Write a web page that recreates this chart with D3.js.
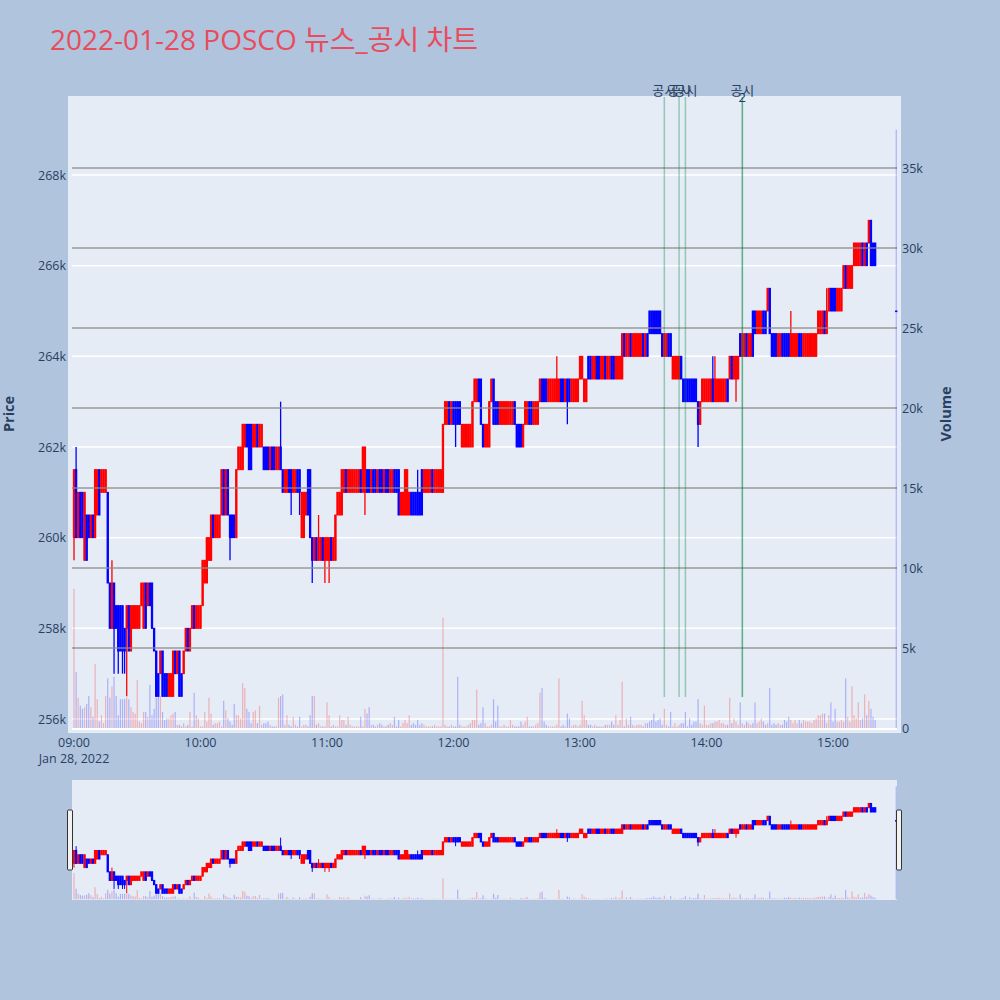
<!DOCTYPE html>
<html>
<head>
<meta charset="utf-8">
<script src="https://cdn.jsdelivr.net/npm/d3@7"></script>
<style>
  body { margin: 0; background: #b0c4de; }
  text { font-family: "Open Sans", "Noto Sans CJK KR", sans-serif; }
</style>
</head>
<body>
<div id="chart"></div>
<script>
// one candle per minute from 09:00, prices in thousand won.
// each body spans from the previous level to this minute's level
const firstLevel = 260.0;
const levels = [
  261.5, 260.0, 261.0, 260.0, 261.0, 259.5, 260.5, 260.0, 260.5, 260.0,
  261.5, 260.5, 261.5, 261.0, 261.5, 261.0, 259.0, 258.0, 259.0, 258.0,
  258.5, 257.5, 258.5, 257.5, 258.0, 258.5, 257.5, 258.5, 258.0, 258.5,
  258.0, 258.5, 259.0, 258.0, 259.0, 258.5, 259.0, 258.0, 257.5, 256.5,
  257.0, 257.5, 256.5, 257.0, 256.5, 257.0, 256.5, 257.5, 257.0, 257.5,
  256.5, 257.0, 257.5, 258.0, 257.5, 258.0, 258.5, 258.0, 258.5, 258.0,
  258.5, 259.5, 259.0, 260.0, 259.5, 260.5, 260.0, 260.5, 260.0, 260.5,
  261.5, 260.5, 261.5, 260.5, 260.0, 260.5, 260.0, 261.5, 262.0, 261.5,
  262.5, 262.0, 262.5, 261.5, 262.5, 262.0, 262.5, 262.0, 262.5, 262.0,
  261.5, 262.0, 261.5, 262.0, 261.5, 262.0, 261.5, 262.0, 261.5, 261.0,
  261.5, 261.0, 261.5, 261.0, 261.5, 261.0, 261.5, 261.0, 260.0, 261.0,
  260.5, 261.5, 260.0, 259.5, 260.0, 259.5, 260.0, 259.5, 260.0, 259.5,
  260.0, 259.5, 260.0, 259.5, 260.5, 261.0, 260.5, 261.5, 261.0, 261.5,
  261.0, 261.5, 261.0, 261.5, 261.0, 261.5, 261.0, 262.0, 261.0, 261.5,
  261.0, 261.5, 261.0, 261.5, 261.0, 261.5, 261.0, 261.5, 261.0, 261.5,
  261.0, 261.5, 261.0, 261.5, 260.5, 261.0, 260.5, 261.5, 260.5, 261.0,
  260.5, 261.0, 260.5, 261.0, 260.5, 261.5, 261.0, 261.5, 261.0, 261.5,
  261.0, 261.5, 261.0, 261.5, 261.0, 262.5, 263.0, 262.5, 263.0, 262.5,
  263.0, 262.5, 263.0, 262.5, 262.0, 262.5, 262.0, 262.5, 262.0, 263.0,
  263.5, 263.0, 263.5, 262.5, 262.0, 262.5, 262.0, 263.0, 263.5, 262.5,
  263.0, 262.5, 263.0, 262.5, 263.0, 262.5, 263.0, 262.5, 263.0, 262.5,
  262.0, 262.5, 262.0, 262.5, 263.0, 262.5, 263.0, 262.5, 263.0, 262.5,
  263.0, 263.5, 263.0, 263.5, 263.0, 263.5, 263.0, 263.5, 263.0, 263.5,
  263.0, 263.5, 263.0, 263.5, 263.0, 263.5, 263.0, 263.5, 263.0, 263.5,
  264.0, 263.5, 263.0, 263.5, 264.0, 263.5, 264.0, 263.5, 264.0, 263.5,
  264.0, 263.5, 264.0, 263.5, 264.0, 263.5, 264.0, 263.5, 264.0, 263.5,
  264.5, 264.0, 264.5, 264.0, 264.5, 264.0, 264.5, 264.0, 264.5, 264.0,
  264.5, 264.0, 264.5, 265.0, 264.5, 265.0, 264.5, 265.0, 264.5, 264.0,
  264.5, 264.0, 264.5, 264.0, 263.5, 264.0, 263.5, 264.0, 263.5, 263.0,
  263.5, 263.0, 263.5, 263.0, 263.5, 263.0, 262.5, 263.0, 263.5, 263.0,
  263.5, 263.0, 263.5, 263.0, 263.5, 263.0, 263.5, 263.0, 263.5, 263.0,
  263.5, 264.0, 263.5, 264.0, 263.5, 264.0, 264.5, 264.0, 264.5, 264.0,
  264.5, 264.0, 265.0, 264.5, 265.0, 264.5, 265.0, 264.5, 265.0, 265.5,
  264.5, 264.0, 264.5, 264.0, 264.5, 264.0, 264.5, 264.0, 264.5, 264.0,
  264.5, 264.0, 264.5, 264.0, 264.5, 264.0, 264.5, 264.0, 264.5, 264.0,
  264.5, 264.0, 264.5, 265.0, 264.5, 265.0, 264.5, 265.0, 265.5, 265.0,
  265.5, 265.0, 265.5, 265.0, 265.5, 266.0, 265.5, 266.0, 265.5, 266.0,
  266.5, 266.0, 266.5, 266.0, 266.5, 266.0, 266.5, 267.0, 266.0, 266.5,
  266.0
];
// r = rising candle (red), b = falling candle (blue), one letter per minute
const bodyDirs = [
  "rbrbbrbbrb", "rrbrrrbbrb", "bbbbbrbrrr", "rrrrbrbbbb", "brbbbrrrbr",
  "bbrrbrrbrr", "rrrrrrbrrr", "rbrbbbbrrr", "rrbbbrrbrr", "bbbrbbrrbb",
  "rrbbrrbbrr", "rbbbrbrrbr", "rrbrrrrrrb", "rrrrrrbrrb", "brbbrbbrbb",
  "rrbbbrrrrr", "bbbbbbrrrr", "brrrrrrrbr", "bbbbrrrrrr", "rrbbbrrrrb",
  "bbrrrrrrrb", "bbbrrrbbrr", "rrbbbrrrrr", "rbbrbbrrrr", "rrrrbbrrbb",
  "rrbrrbbrrr", "rbrrbrrrrr", "brbbbbbbbb", "rrbbrrrrbb", "bbbbbbbrrr",
  "rrrbrrrrrr", "brbrrrbrrb", "rrbbrrrbbr", "bbbbrrbbbb", "rrrrbbrrrr",
  "rrrrrrbrrb", "bbrrrrbrrr", "rrrrbrbrbb", "b"
].join("");
// [minute index, wick end]
const highWicks = [[1, 262.0], [18, 259.5], [98, 263.0], [116, 260.5], [163, 261.5],
  [229, 264.0], [303, 264.0], [304, 264.0], [340, 265.0], [357, 265.5]];
const lowWicks = [[0, 259.5], [19, 257.0], [21, 257.0], [23, 257.0], [24, 257.0], [25, 256.5],
  [74, 259.5], [103, 260.5], [107, 260.5], [113, 259.0], [119, 259.0], [121, 259.0],
  [138, 260.5], [181, 262.0], [234, 262.5], [296, 262.0], [314, 263.0]];
// volume per minute, thousand shares
const volumes = [
  8.7, 3.5, 1.9, 1.4, 1.2, 1.3, 1.5, 2.0, 1.3, 0.7,
  4.0, 1.8, 0.4, 0.8, 0.3, 2.0, 3.1, 1.9, 2.6, 3.2,
  2.0, 0.8, 1.8, 1.8, 1.8, 1.9, 1.8, 1.3, 1.0, 0.9,
  3.0, 0.4, 0.3, 1.0, 1.0, 0.7, 2.7, 0.8, 1.2, 1.9,
  3.0, 2.0, 1.0, 0.5, 0.6, 0.6, 0.8, 0.9, 1.0, 0.2,
  0.2, 0.1, 0.3, 0.1, 0.2, 1.0, 0.1, 2.2, 0.8, 0.6,
  0.1, 0.1, 1.0, 0.4, 1.9, 0.9, 0.2, 0.3, 0.3, 0.4,
  0.1, 1.7, 1.1, 0.6, 0.4, 0.2, 1.5, 0.8, 0.8, 0.6,
  2.8, 2.5, 1.2, 1.0, 0.3, 1.0, 1.1, 0.3, 1.4, 0.2,
  0.3, 0.3, 0.4, 0.2, 0.1, 0.1, 0.1, 1.9, 2.0, 2.1,
  0.2, 0.8, 0.2, 0.1, 0.7, 0.2, 0.1, 0.7, 0.1, 0.2,
  0.2, 0.1, 0.8, 2.0, 2.0, 0.2, 0.3, 0.1, 0.1, 0.1,
  1.6, 0.8, 0.1, 0.2, 0.1, 0.1, 0.8, 0.5, 0.5, 0.2,
  0.7, 0.2, 0.1, 0.1, 0.1, 0.1, 0.7, 0.1, 1.2, 0.9,
  1.3, 0.2, 0.2, 0.1, 0.2, 0.3, 0.2, 0.1, 0.1, 0.2,
  0.3, 0.2, 0.7, 0.1, 0.5, 0.1, 0.3, 0.5, 0.3, 0.8,
  0.2, 0.3, 0.2, 0.5, 0.2, 0.3, 0.2, 0.1, 0.1, 0.1,
  0.1, 0.2, 0.1, 0.1, 0.1, 6.9, 0.2, 0.1, 0.1, 0.2,
  0.1, 0.1, 3.2, 0.2, 0.1, 0.1, 0.1, 0.2, 0.3, 0.5,
  0.5, 2.4, 0.2, 0.3, 1.3, 0.3, 0.1, 0.1, 0.2, 1.8,
  0.4, 1.4, 0.1, 0.1, 0.2, 0.1, 0.1, 0.5, 0.2, 0.1,
  0.1, 0.1, 0.4, 0.2, 0.4, 0.7, 0.1, 0.1, 0.1, 0.2,
  0.3, 2.2, 2.5, 0.4, 0.2, 0.1, 0.1, 0.1, 0.1, 0.2,
  3.1, 0.1, 0.2, 0.1, 0.9, 0.6, 0.1, 0.2, 0.2, 0.1,
  0.2, 1.7, 0.8, 0.5, 0.2, 0.2, 0.1, 0.2, 0.1, 0.1,
  0.1, 0.1, 0.2, 0.2, 0.2, 0.4, 0.2, 0.8, 0.2, 0.5,
  2.9, 0.1, 0.6, 0.2, 0.7, 0.2, 0.1, 0.2, 0.2, 0.2,
  0.1, 0.3, 0.3, 0.4, 0.5, 0.9, 0.4, 0.5, 0.6, 0.2,
  1.2, 0.2, 0.1, 1.0, 0.1, 0.3, 0.1, 0.2, 0.3, 0.3,
  1.0, 0.1, 0.6, 0.2, 0.4, 0.4, 1.8, 0.3, 0.2, 1.4,
  0.2, 0.2, 0.3, 0.3, 0.4, 0.4, 0.5, 0.3, 0.3, 0.2,
  0.2, 1.9, 0.3, 0.6, 0.4, 0.2, 1.6, 0.3, 0.2, 0.4,
  0.3, 0.2, 0.3, 1.6, 0.3, 0.4, 0.6, 0.4, 0.2, 0.3,
  2.5, 0.2, 0.3, 0.2, 0.3, 0.2, 0.2, 0.5, 0.4, 0.7,
  0.5, 0.3, 0.5, 0.3, 0.5, 0.3, 0.5, 0.4, 0.4, 0.4,
  0.3, 0.5, 0.6, 0.8, 0.8, 0.9, 0.9, 0.3, 0.8, 1.6,
  0.4, 1.2, 0.4, 0.4, 0.5, 0.4, 3.1, 0.7, 0.4, 2.6,
  0.8, 0.6, 1.6, 0.5, 0.6, 2.1, 0.8, 1.7, 1.2, 0.7,
  0.5
];
// closing single-price auction
const closingTime = "15:30";
const closingPrice = 265.0;
const closingVolume = 37.4;

const eventTimes = ["13:40", "13:47", "13:50", "14:17"];
const eventCounts = [1, 1, 1, 2];
const eventLabel = "공시";

const priceTicks = [256, 258, 260, 262, 264, 266, 268];
const volumeTicks = [0, 5, 10, 15, 20, 25, 30, 35];
const timeTicks = ["09:00", "10:00", "11:00", "12:00", "13:00", "14:00", "15:00"];

const W = 1000, H = 1000;
const UP = "#ff0000", DOWN = "#0000ff";
const FONT_COLOR = "#2a3f5f";

const parseTime = d3.timeParse("%Y-%m-%d %H:%M");
const day = "2022-01-28";
const start = parseTime(day + " 09:00");

const candles = levels.map((lv, i) => {
  const prev = i === 0 ? firstLevel : levels[i - 1];
  const lo = Math.min(prev, lv), hi = Math.max(prev, lv);
  const up = bodyDirs[i] === "r";
  return { t: d3.timeMinute.offset(start, i), o: up ? lo : hi, c: up ? hi : lo,
    h: hi, l: lo, v: volumes[i], up };
});
highWicks.forEach(([i, h]) => { candles[i].h = Math.max(candles[i].h, h); });
lowWicks.forEach(([i, l]) => { candles[i].l = Math.min(candles[i].l, l); });
candles.push({ t: parseTime(day + " " + closingTime), o: closingPrice, c: closingPrice,
  h: closingPrice, l: closingPrice, v: closingVolume, up: false });

const color = d => d.up ? UP : DOWN;

const x = d3.scaleTime()
  .domain([parseTime(day + " 09:00"), parseTime(day + " 15:00")])
  .range([74, 833]);
const y = d3.scaleLinear().domain([256, 268]).range([719, 175]);
const yv = d3.scaleLinear().domain([0, 35]).range([728, 168]);
const yMini = d3.scaleLinear().domain([255.71, 269.74]).range([900, 780]);
const yvMini = d3.scaleLinear().domain([-0.25, 39.5]).range([900, 780]);

const svg = d3.select("#chart").append("svg")
  .attr("width", W)
  .attr("height", H);

svg.append("rect").attr("width", W).attr("height", H).attr("fill", "#b0c4de");

// title
svg.append("text")
  .attr("x", 50).attr("y", 50)
  .attr("font-size", 28)
  .attr("fill", "#e84c5d")
  .text("2022-01-28 POSCO 뉴스_공시 차트");

// main plot background
svg.append("rect")
  .attr("x", 68).attr("y", 96)
  .attr("width", 833).attr("height", 637)
  .attr("fill", "#e5ecf6");

const gridX0 = 72, gridX1 = 897;

// price gridlines
svg.append("g").selectAll("line")
  .data(priceTicks)
  .enter().append("line")
  .attr("x1", gridX0).attr("x2", gridX1)
  .attr("y1", d => y(d)).attr("y2", d => y(d))
  .attr("stroke", "#ffffff").attr("stroke-width", 1.5);

svg.append("line")
  .attr("x1", gridX0).attr("x2", gridX1)
  .attr("y1", yv(0) + 1).attr("y2", yv(0) + 1)
  .attr("stroke", "#ffffff").attr("stroke-width", 2);

function drawCandles(g, data, ys, bodyW, wickW) {
  g.selectAll(".wick")
    .data(data)
    .enter().append("line")
    .attr("class", "wick")
    .attr("x1", d => x(d.t)).attr("x2", d => x(d.t))
    .attr("y1", d => ys(d.h)).attr("y2", d => ys(d.l))
    .attr("stroke", color)
    .attr("stroke-width", wickW);
  g.selectAll(".body")
    .data(data)
    .enter().append("rect")
    .attr("class", "body")
    .attr("x", d => x(d.t) - bodyW / 2)
    .attr("y", d => ys(Math.max(d.o, d.c)))
    .attr("width", bodyW)
    .attr("height", d => Math.max(0.6, Math.abs(ys(d.o) - ys(d.c))))
    .attr("fill", color)
    .attr("stroke", color)
    .attr("stroke-width", 1);
}

drawCandles(svg.append("g"), candles, y, 1.3, 1.3);

// volume gridlines (secondary axis, drawn above the candles)
svg.append("g").selectAll("line")
  .data(volumeTicks.filter(d => d > 0))
  .enter().append("line")
  .attr("x1", gridX0).attr("x2", gridX1)
  .attr("y1", d => yv(d)).attr("y2", d => yv(d))
  .attr("stroke", "#8c8c8c").attr("stroke-width", 1.3)
  .attr("opacity", 0.85);

// volume bars
svg.append("g").selectAll("rect")
  .data(candles)
  .enter().append("rect")
  .attr("x", d => x(d.t) - 0.6)
  .attr("y", d => yv(d.v))
  .attr("width", 1.2)
  .attr("height", d => yv(0) - yv(d.v))
  .attr("fill", color)
  .attr("opacity", 0.25);

// disclosure lines
const events = eventTimes.map((t, i) => ({ t: parseTime(day + " " + t), n: eventCounts[i] }));
const ev = svg.append("g");
events.forEach(e => {
  d3.range(e.n).forEach(() => {
    ev.append("line")
      .attr("x1", x(e.t)).attr("x2", x(e.t))
      .attr("y1", 97).attr("y2", 697)
      .attr("stroke", "rgba(0,128,60,0.35)")
      .attr("stroke-width", 1.5);
  });
  ev.append("text")
    .attr("x", x(e.t)).attr("y", 95)
    .attr("text-anchor", "middle")
    .attr("font-size", 13)
    .attr("fill", FONT_COLOR)
    .text(eventLabel);
  if (e.n > 1) {
    ev.append("text")
      .attr("x", x(e.t)).attr("y", 102)
      .attr("text-anchor", "middle")
      .attr("font-size", 13)
      .attr("fill", FONT_COLOR)
      .text(e.n);
  }
});

// axes labels
svg.append("g").selectAll("text")
  .data(priceTicks)
  .enter().append("text")
  .attr("x", 66).attr("y", d => y(d) + 4.5)
  .attr("text-anchor", "end")
  .attr("font-size", 12.5)
  .attr("fill", FONT_COLOR)
  .text(d => d + "k");

svg.append("g").selectAll("text")
  .data(volumeTicks)
  .enter().append("text")
  .attr("x", 902).attr("y", d => yv(d) + 4.5)
  .attr("font-size", 12.5)
  .attr("fill", FONT_COLOR)
  .text(d => d === 0 ? "0" : d + "k");

svg.append("g").selectAll("text")
  .data(timeTicks)
  .enter().append("text")
  .attr("x", d => x(parseTime(day + " " + d)))
  .attr("y", 747)
  .attr("text-anchor", "middle")
  .attr("font-size", 12.5)
  .attr("fill", FONT_COLOR)
  .text(d => d);

svg.append("text")
  .attr("x", x(start)).attr("y", 763)
  .attr("text-anchor", "middle")
  .attr("font-size", 12.5)
  .attr("fill", FONT_COLOR)
  .text("Jan 28, 2022");

svg.append("text")
  .attr("transform", "translate(14,414) rotate(-90)")
  .attr("text-anchor", "middle")
  .attr("font-size", 14.5)
  .attr("font-weight", "bold")
  .attr("fill", FONT_COLOR)
  .text("Price");

svg.append("text")
  .attr("transform", "translate(951,414) rotate(-90)")
  .attr("text-anchor", "middle")
  .attr("font-size", 14.5)
  .attr("font-weight", "bold")
  .attr("fill", FONT_COLOR)
  .text("Volume");

// range slider
const slider = svg.append("g");
slider.append("rect")
  .attr("x", gridX0).attr("y", 780)
  .attr("width", gridX1 - gridX0).attr("height", 120)
  .attr("fill", "#e5ecf6");
drawCandles(slider.append("g"), candles, yMini, 1.3, 1);
slider.append("g").selectAll("rect")
  .data(candles)
  .enter().append("rect")
  .attr("x", d => x(d.t) - 0.6)
  .attr("y", d => yvMini(d.v))
  .attr("width", 1.2)
  .attr("height", d => yvMini(0) - yvMini(d.v))
  .attr("fill", color)
  .attr("opacity", 0.25);
[gridX0 - 2, gridX1 + 2].forEach(hx => {
  slider.append("rect")
    .attr("x", hx - 2.5).attr("y", 810)
    .attr("width", 5).attr("height", 60)
    .attr("fill", "#f2f2f2")
    .attr("stroke", "#333").attr("stroke-width", 1)
    .attr("rx", 1);
});
</script>
</body>
</html>
